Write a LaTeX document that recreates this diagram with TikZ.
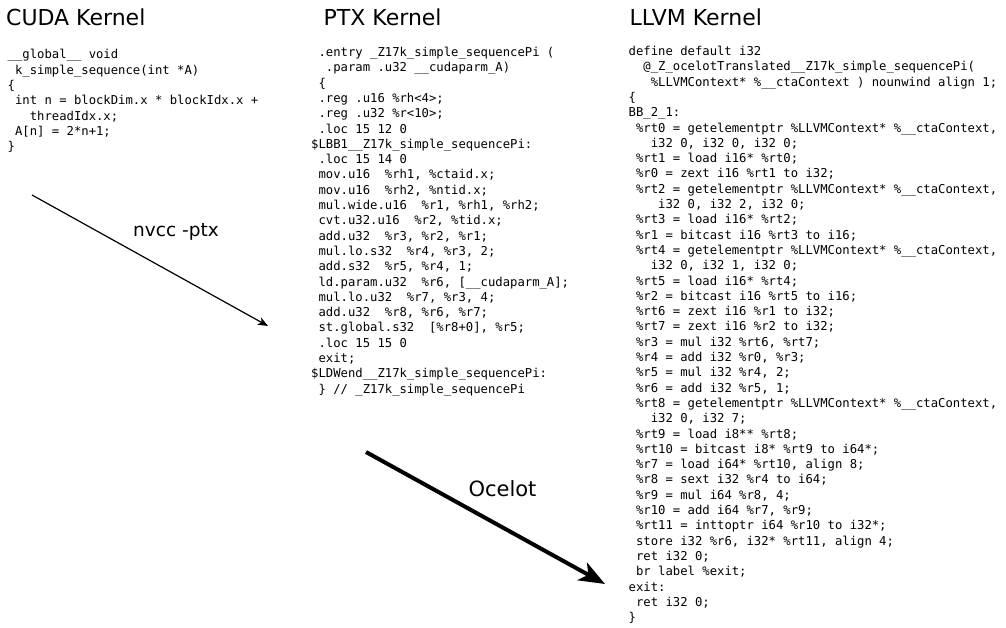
\documentclass[tikz,border=0pt]{standalone}
\usepackage{fontspec}
\setmainfont{DejaVu Sans}
\newfontfamily\codefont{DejaVu Sans Mono}
\usetikzlibrary{arrows.meta}

\begin{document}
\begin{tikzpicture}[x=1pt,y=-1pt,
    title/.style={anchor=base west,inner sep=0,font=\fontsize{22}{26}\selectfont},
    code/.style={anchor=base west,inner sep=0,align=left,font=\codefont\fontsize{12.24}{15.3}\selectfont},
    tool/.style={anchor=base,inner sep=0}]
    \useasboundingbox (0,0) rectangle (1006,628);

    % titles
    \node[title] (cudatitle) at (6,26) {CUDA Kernel};
    \node[title] (ptxtitle) at (323.5,26) {PTX Kernel};
    \node[title] (llvmtitle) at (629.5,26) {LLVM Kernel};

    % code, placed by the baseline of its last line
    \node[code] (cudacode) at (7.5,150.8) {\_\_global\_\_ void\\
~k\_simple\_sequence(int *A)\\
\{\\
~int n = blockDim.x * blockIdx.x +\\
~~~threadIdx.x;\\
~A[n] = 2*n+1;\\
\}};

    \node[code] (ptxcode) at (311,393.1) {~.entry \_Z17k\_simple\_sequencePi (\\
~~.param .u32 \_\_cudaparm\_A)\\
~\{\\
~.reg .u16 \%rh<4>;\\
~.reg .u32 \%r<10>;\\
~.loc 15 12 0\\
\$LBB1\_\_Z17k\_simple\_sequencePi:\\
~.loc 15 14 0\\
~mov.u16~~\%rh1, \%ctaid.x;\\
~mov.u16~~\%rh2, \%ntid.x;\\
~mul.wide.u16~~\%r1, \%rh1, \%rh2;\\
~cvt.u32.u16~~\%r2, \%tid.x;\\
~add.u32~~\%r3, \%r2, \%r1;\\
~mul.lo.s32~~\%r4, \%r3, 2;\\
~add.s32~~\%r5, \%r4, 1;\\
~ld.param.u32~~\%r6, [\_\_cudaparm\_A];\\
~mul.lo.u32~~\%r7, \%r3, 4;\\
~add.u32~~\%r8, \%r6, \%r7;\\
~st.global.s32~~[\%r8+0], \%r5;\\
~.loc 15 15 0\\
~exit;\\
\$LDWend\_\_Z17k\_simple\_sequencePi:\\
~\} // \_Z17k\_simple\_sequencePi};

    \node[code] (llvmcode) at (628.5,621.6) {define default i32\\
~~@\_Z\_ocelotTranslated\_\_Z17k\_simple\_sequencePi(\\
~~~\%LLVMContext* \%\_\_ctaContext ) nounwind align 1;\\
\{\\
BB\_2\_1:\\
~\%rt0 = getelementptr \%LLVMContext* \%\_\_ctaContext,\\
~~~i32 0, i32 0, i32 0;\\
~\%rt1 = load i16* \%rt0;\\
~\%r0 = zext i16 \%rt1 to i32;\\
~\%rt2 = getelementptr \%LLVMContext* \%\_\_ctaContext,\\
~~~~i32 0, i32 2, i32 0;\\
~\%rt3 = load i16* \%rt2;\\
~\%r1 = bitcast i16 \%rt3 to i16;\\
~\%rt4 = getelementptr \%LLVMContext* \%\_\_ctaContext,\\
~~~i32 0, i32 1, i32 0;\\
~\%rt5 = load i16* \%rt4;\\
~\%r2 = bitcast i16 \%rt5 to i16;\\
~\%rt6 = zext i16 \%r1 to i32;\\
~\%rt7 = zext i16 \%r2 to i32;\\
~\%r3 = mul i32 \%rt6, \%rt7;\\
~\%r4 = add i32 \%r0, \%r3;\\
~\%r5 = mul i32 \%r4, 2;\\
~\%r6 = add i32 \%r5, 1;\\
~\%rt8 = getelementptr \%LLVMContext* \%\_\_ctaContext,\\
~~~i32 0, i32 7;\\
~\%rt9 = load i8** \%rt8;\\
~\%rt10 = bitcast i8* \%rt9 to i64*;\\
~\%r7 = load i64* \%rt10, align 8;\\
~\%r8 = sext i32 \%r4 to i64;\\
~\%r9 = mul i64 \%r8, 4;\\
~\%r10 = add i64 \%r7, \%r9;\\
~\%rt11 = inttoptr i64 \%r10 to i32*;\\
~store i32 \%r6, i32* \%rt11, align 4;\\
~ret i32 0;\\
~br label \%exit;\\
exit:\\
~ret i32 0;\\
\}};

    % arrows
    \coordinate (nvccfrom) at (32,195);
    \coordinate (nvccto) at (268,326);
    \coordinate (ocelotfrom) at (366,452);
    \coordinate (ocelotto) at (605,584);

    \draw[line width=1.2pt,-{Stealth[length=10pt,width=8pt,inset=2.5pt]}] (nvccfrom)--(nvccto);
    \draw[line width=4pt,-{Stealth[length=26pt,width=20pt,inset=7pt]}] (ocelotfrom)--(ocelotto);

    % label
    \node[tool,font=\fontsize{18.5}{22}\selectfont] (nvcclabel) at (176,237) {nvcc -ptx};
    \node[tool,font=\fontsize{21}{25}\selectfont] (ocelotlabel) at (502.5,496) {Ocelot};
\end{tikzpicture}
\end{document}
